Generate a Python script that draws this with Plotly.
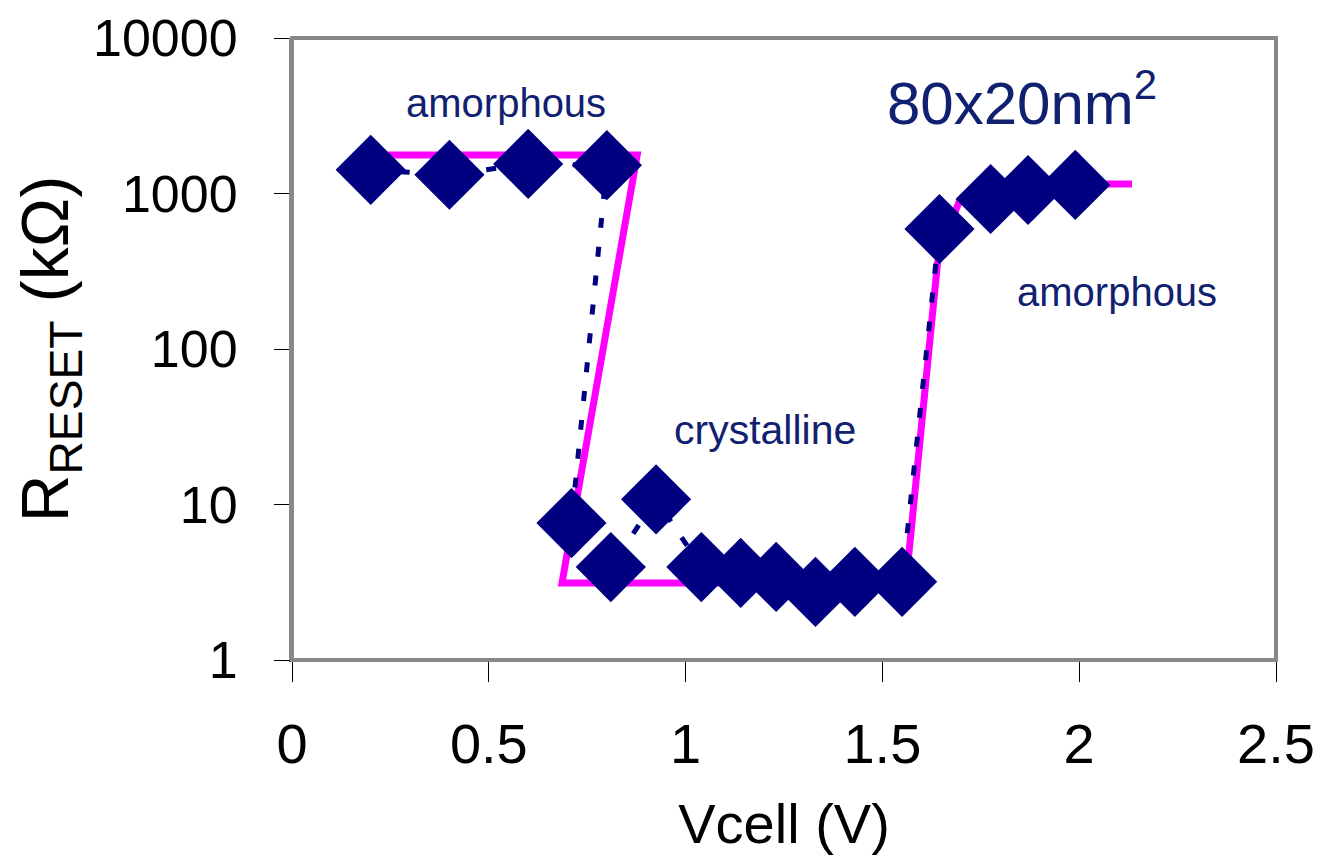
import plotly.graph_objects as go

# Measured data (RESET resistance vs cell voltage)
vcell = [0.2, 0.4, 0.6, 0.8, 0.71, 0.81, 0.925, 1.04, 1.14, 1.23, 1.33, 1.43, 1.55,
         1.645, 1.775, 1.87, 1.99]
r_reset = [1420, 1320, 1550, 1520, 7.6, 3.96, 10.8, 3.96, 3.63, 3.42, 2.74, 3.18, 3.18,
           591, 922, 1053, 1135]

# Guide (fit) curve
fit_v = [0.2, 0.877, 0.686, 1.56, 1.64, 1.655, 1.697, 1.74, 2.134]
fit_r = [1770, 1770, 3.13, 3.13, 357, 500, 908, 1150, 1150]

# Axis ticks
x_ticks = [0, 0.5, 1, 1.5, 2, 2.5]
x_tick_text = ["0", "0.5", "1", "1.5", "2", "2.5"]
y_ticks = [1, 10, 100, 1000, 10000]
y_tick_text = ["1", "10", "100", "1000", "10000"]

# Text labels (x in V, y as log10 of kΩ)
labels = ["amorphous", "80x20nm<sup>2</sup>", "crystalline", "amorphous"]
label_x = [0.544, 1.855, 1.202, 2.096]
label_y = [3.585, 3.61, 1.479, 2.367]
label_size = [40, 60, 41, 40]

FONT = "Arial, Liberation Sans, sans-serif"
NAVY_TXT = "#12216F"
NAVY = "#000080"

fig = go.Figure()
fig.add_trace(go.Scatter(x=fit_v, y=fit_r, mode="lines",
                         line=dict(color="#FF00FF", width=7),
                         hoverinfo="skip", showlegend=False))
fig.add_trace(go.Scatter(x=vcell, y=r_reset, mode="lines+markers",
                         line=dict(color=NAVY, width=5, dash="10px,19px"),
                         marker=dict(symbol="diamond", size=54, color=NAVY,
                                     line=dict(width=0)),
                         showlegend=False))

for t, lx, ly, ls in zip(labels, label_x, label_y, label_size):
    fig.add_annotation(x=lx, y=ly, xref="x", yref="y", text=t,
                       showarrow=False, xanchor="center", yanchor="middle",
                       font=dict(family=FONT, size=ls, color=NAVY_TXT))

# gray frame around plot area
fig.add_shape(type="rect", xref="paper", yref="paper", x0=0, x1=1, y0=0, y1=1,
              line=dict(color="#888888", width=4), layer="above")

fig.update_layout(
    width=1316, height=854,
    margin=dict(l=284, r=48, t=30, b=202, autoexpand=False),
    paper_bgcolor="white", plot_bgcolor="white",
    font=dict(family=FONT, color="black"),
    xaxis=dict(range=[0, 2.5], tickvals=x_ticks, ticktext=x_tick_text,
               showgrid=False, zeroline=False, ticks="outside", ticklen=20,
               tickcolor="black", tickwidth=1, showline=True, linecolor="#333333",
               linewidth=2, ticklabelstandoff=14, automargin=False,
               tickfont=dict(family=FONT, size=56, color="black"),
               title=dict(text="Vcell (V)", font=dict(family=FONT, size=56, color="black"),
                          standoff=30)),
    yaxis=dict(type="log", range=[0, 4], tickvals=y_ticks, ticktext=y_tick_text,
               showgrid=False, zeroline=False, ticks="outside", ticklen=15,
               tickcolor="black", tickwidth=1, showline=True, linecolor="#888888",
               linewidth=3, ticklabelstandoff=26, automargin=False,
               tickfont=dict(family=FONT, size=52, color="black"),
               title=dict(text="R<sub>RESET</sub> (kΩ)",
                          font=dict(family=FONT, size=66, color="black"),
                          standoff=22)),
)

fig.write_html("out.html")
